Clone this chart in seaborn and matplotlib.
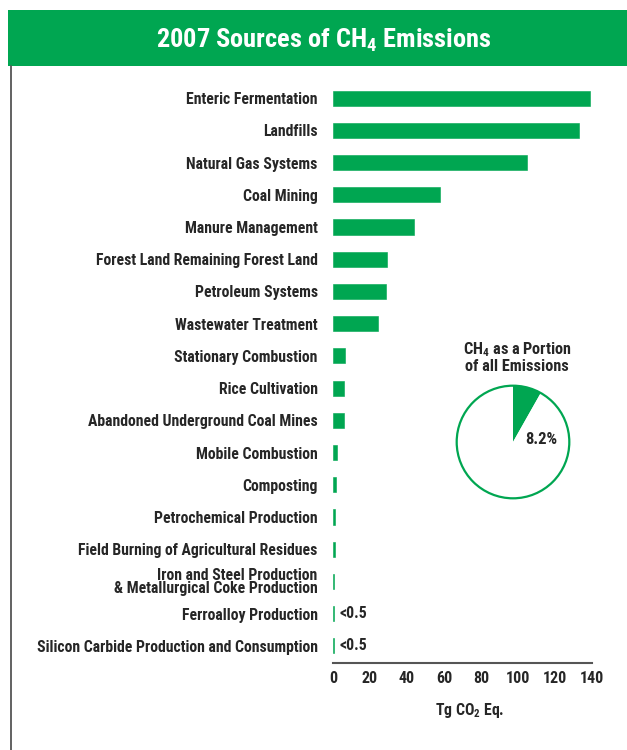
import matplotlib
matplotlib.use('Agg')
import matplotlib.pyplot as plt
import seaborn as sns
import pandas as pd
from matplotlib.patches import Rectangle, Circle
from matplotlib.lines import Line2D

# Data (Tg CO2 Eq.)
sources = [
    "Enteric Fermentation", "Landfills", "Natural Gas Systems", "Coal Mining",
    "Manure Management", "Forest Land Remaining Forest Land", "Petroleum Systems",
    "Wastewater Treatment", "Stationary Combustion", "Rice Cultivation",
    "Abandoned Underground Coal Mines", "Mobile Combustion", "Composting",
    "Petrochemical Production", "Field Burning of Agricultural Residues",
    "Iron and Steel Production\n& Metallurgical Coke Production",
    "Ferroalloy Production", "Silicon Carbide Production and Consumption",
]
emissions = [139.0, 132.9, 104.7, 57.6, 44.0, 29.0, 28.8, 24.4, 6.6, 6.2,
             5.7, 2.3, 1.7, 1.0, 0.9, 0.7, 0.4, 0.4]
small_labels = ["", "", "", "", "", "", "", "", "", "", "", "", "", "", "", "",
                "<0.5", "<0.5"]
pie_values = [8.2, 91.8]
x_ticks = [0, 20, 40, 60, 80, 100, 120, 140]

GREEN = "#00A651"
FONT = "Roboto Condensed"

sns.set_theme(style="white")
plt.rcParams['font.family'] = [FONT, 'Liberation Sans', 'DejaVu Sans']
plt.rcParams['font.weight'] = 'bold'
plt.rcParams['mathtext.fontset'] = 'custom'
plt.rcParams['mathtext.rm'] = FONT + ':bold'
plt.rcParams['mathtext.it'] = FONT + ':bold'
plt.rcParams['mathtext.bf'] = FONT + ':bold'
plt.rcParams['mathtext.default'] = 'rm'

W, H = 627, 750
fig = plt.figure(figsize=(6.27, 7.5), dpi=100)

# header band and frame line
fig.patches.append(Rectangle((8 / W, 1 - 66 / H), 1, 56 / H, transform=fig.transFigure,
                             facecolor=GREEN, edgecolor='none', zorder=0))
fig.lines.append(Line2D([10.5 / W, 10.5 / W], [0, 1 - 66 / H], transform=fig.transFigure,
                        color="#555555", linewidth=1.3))
fig.text(324 / W, 1 - 40 / H, "2007 Sources of CH$_4$ Emissions", color="white",
         fontsize=19, ha='center', va='center', fontweight='bold')

# bar chart
df = pd.DataFrame({"source": sources, "value": emissions})
ax = fig.add_axes([333 / W, 1 - 663 / H, (592 - 333) / W, (663 - 82) / H])
sns.barplot(data=df, y="source", x="value", color=GREEN, width=0.47,
            saturation=1, ax=ax, orient="h", edgecolor=GREEN, linewidth=0.4)
ax.set_xlim(0, 140)
ax.set_ylim(17.53, -0.5)
ax.set_xticks(x_ticks)
ax.set_xticklabels([str(t) for t in x_ticks], fontsize=11.5, fontweight='bold')
ax.set_yticks(range(len(sources)))
ax.set_yticklabels(sources, fontsize=11.3, fontweight='bold', linespacing=0.8)
ax.tick_params(axis='y', length=0, pad=11)
ax.tick_params(axis='x', direction='in', length=5, width=1.3, color="#555555", pad=6)
for s in ["top", "right", "left"]:
    ax.spines[s].set_visible(False)
ax.spines["bottom"].set_color("#555555")
ax.spines["bottom"].set_linewidth(1.5)
ax.set_ylabel("")
ax.set_xlabel("Tg CO$_2$ Eq.", fontsize=11.3, fontweight='bold')
ax.xaxis.set_label_coords(0.529, -0.066)
ax.patch.set_alpha(0)
for i, lab in enumerate(small_labels):
    if lab:
        ax.text(emissions[i] + 3, i, lab, fontsize=11.3, fontweight='bold',
                va='center', ha='left')

# inset pie
fig.text(517 / W, 1 - 357 / H, "CH$_4$ as a Portion\nof all Emissions", fontsize=11.7,
         fontweight='bold', ha='center', va='center', linespacing=1.05)
pax = fig.add_axes([455 / W, 1 - 500 / H, 116 / W, 116 / H])
pax.pie(pie_values, colors=[GREEN, "white"], startangle=90, counterclock=False,
        wedgeprops=dict(linewidth=0))
pax.add_patch(Circle((0, 0), 1, facecolor='none', edgecolor=GREEN, linewidth=1.6))
pax.set_xlim(-1.03, 1.03)
pax.set_ylim(-1.03, 1.03)
pax.set_aspect('equal')
pax.axis('off')
pax.text(0.5, 0.05, "8.2%", fontsize=12, fontweight='bold', ha='center', va='center')

fig.savefig("out.png", dpi=100)
